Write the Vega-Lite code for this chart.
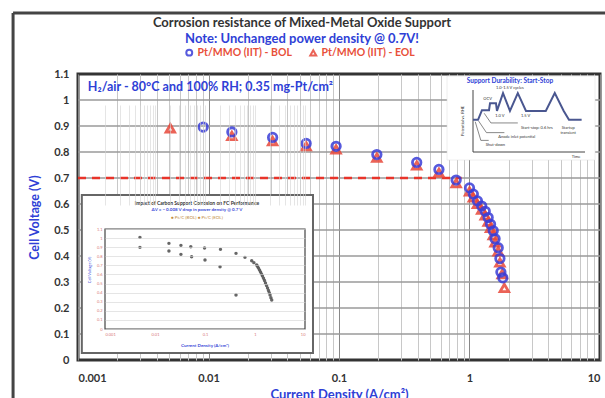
{
  "$schema": "https://vega.github.io/schema/vega-lite/v6.json",
  "width": 522,
  "height": 286,
  "autosize": "none",
  "padding": {"left": 78, "top": 74, "right": 5, "bottom": 38},
  "background": "white",
  "config": {"font": "Lato", "view": {"stroke": "#333", "strokeWidth": 3}},
  "title": {
    "text": "Corrosion resistance of Mixed-Metal Oxide Support",
    "subtitle": "Note: Unchanged power density @ 0.7V!",
    "anchor": "middle",
    "frame": "group",
    "dx": -37,
    "offset": -35,
    "font": "Lato",
    "fontSize": 13,
    "fontWeight": "bold",
    "color": "#333333",
    "subtitleFont": "Lato",
    "subtitleFontSize": 13,
    "subtitleFontWeight": "bold",
    "subtitleColor": "#2f3fd6",
    "subtitlePadding": 3
  },
  "datasets": {
    "curve": [
      {"j": 0.0051, "v": 0.891, "series": "Pt/MMO (IIT) - EOL"},
      {"j": 0.0151, "v": 0.862, "series": "Pt/MMO (IIT) - EOL"},
      {"j": 0.031, "v": 0.842, "series": "Pt/MMO (IIT) - EOL"},
      {"j": 0.056, "v": 0.822, "series": "Pt/MMO (IIT) - EOL"},
      {"j": 0.095, "v": 0.81, "series": "Pt/MMO (IIT) - EOL"},
      {"j": 0.195, "v": 0.778, "series": "Pt/MMO (IIT) - EOL"},
      {"j": 0.394, "v": 0.748, "series": "Pt/MMO (IIT) - EOL"},
      {"j": 0.583, "v": 0.72, "series": "Pt/MMO (IIT) - EOL"},
      {"j": 0.79, "v": 0.68, "series": "Pt/MMO (IIT) - EOL"},
      {"j": 1.0, "v": 0.648, "series": "Pt/MMO (IIT) - EOL"},
      {"j": 1.07, "v": 0.625, "series": "Pt/MMO (IIT) - EOL"},
      {"j": 1.15, "v": 0.6, "series": "Pt/MMO (IIT) - EOL"},
      {"j": 1.24, "v": 0.578, "series": "Pt/MMO (IIT) - EOL"},
      {"j": 1.32, "v": 0.556, "series": "Pt/MMO (IIT) - EOL"},
      {"j": 1.39, "v": 0.532, "series": "Pt/MMO (IIT) - EOL"},
      {"j": 1.45, "v": 0.508, "series": "Pt/MMO (IIT) - EOL"},
      {"j": 1.52, "v": 0.48, "series": "Pt/MMO (IIT) - EOL"},
      {"j": 1.57, "v": 0.452, "series": "Pt/MMO (IIT) - EOL"},
      {"j": 1.66, "v": 0.418, "series": "Pt/MMO (IIT) - EOL"},
      {"j": 1.71, "v": 0.375, "series": "Pt/MMO (IIT) - EOL"},
      {"j": 1.78, "v": 0.33, "series": "Pt/MMO (IIT) - EOL"},
      {"j": 1.85, "v": 0.277, "series": "Pt/MMO (IIT) - EOL"},
      {"j": 0.0091, "v": 0.896, "series": "Pt/MMO (IIT) - BOL"},
      {"j": 0.0151, "v": 0.877, "series": "Pt/MMO (IIT) - BOL"},
      {"j": 0.031, "v": 0.856, "series": "Pt/MMO (IIT) - BOL"},
      {"j": 0.056, "v": 0.833, "series": "Pt/MMO (IIT) - BOL"},
      {"j": 0.095, "v": 0.822, "series": "Pt/MMO (IIT) - BOL"},
      {"j": 0.195, "v": 0.79, "series": "Pt/MMO (IIT) - BOL"},
      {"j": 0.394, "v": 0.76, "series": "Pt/MMO (IIT) - BOL"},
      {"j": 0.583, "v": 0.733, "series": "Pt/MMO (IIT) - BOL"},
      {"j": 0.79, "v": 0.692, "series": "Pt/MMO (IIT) - BOL"},
      {"j": 1.0, "v": 0.662, "series": "Pt/MMO (IIT) - BOL"},
      {"j": 1.07, "v": 0.638, "series": "Pt/MMO (IIT) - BOL"},
      {"j": 1.15, "v": 0.612, "series": "Pt/MMO (IIT) - BOL"},
      {"j": 1.24, "v": 0.592, "series": "Pt/MMO (IIT) - BOL"},
      {"j": 1.32, "v": 0.572, "series": "Pt/MMO (IIT) - BOL"},
      {"j": 1.39, "v": 0.548, "series": "Pt/MMO (IIT) - BOL"},
      {"j": 1.45, "v": 0.522, "series": "Pt/MMO (IIT) - BOL"},
      {"j": 1.52, "v": 0.497, "series": "Pt/MMO (IIT) - BOL"},
      {"j": 1.57, "v": 0.466, "series": "Pt/MMO (IIT) - BOL"},
      {"j": 1.66, "v": 0.432, "series": "Pt/MMO (IIT) - BOL"},
      {"j": 1.71, "v": 0.39, "series": "Pt/MMO (IIT) - BOL"},
      {"j": 1.74, "v": 0.338, "series": "Pt/MMO (IIT) - BOL"},
      {"j": 1.8, "v": 0.316, "series": "Pt/MMO (IIT) - BOL"}
    ],
    "hgrid": [
      {"y": 0.1}, {"y": 0.2}, {"y": 0.3}, {"y": 0.4}, {"y": 0.5},
      {"y": 0.6}, {"y": 0.7}, {"y": 0.8}, {"y": 0.9}, {"y": 1.0}
    ],
    "outer": [
      {"x": 0.000318, "x2": 0.000318, "y": -0.3, "y2": 1.335},
      {"x": 0.000318, "x2": 30, "y": 1.335, "y2": 1.335}
    ],
    "boxes": [
      {"name": "inset", "x": 0.00107, "x2": 0.0632, "y": 0.027, "y2": 0.635},
      {"name": "schematic", "x": 0.673, "x2": 9.16, "y": 0.769, "y2": 1.092}
    ],
    "dash": [{"x": 0.001, "x2": 0.87, "y": 0.7}],
    "note": [{"x": 0.00119, "y": 1.05, "text": "H₂/air - 80°C and 100% RH; 0.35 mg-Pt/cm²"}],
    "insetFrame": [{"x": 0.001, "x2": 10, "y": 0, "y2": 1.1}],
    "insetPts": [
      {"x": 0.005, "y": 1.008}, {"x": 0.005, "y": 0.898},
      {"x": 0.019, "y": 0.942}, {"x": 0.019, "y": 0.857},
      {"x": 0.033, "y": 0.92}, {"x": 0.033, "y": 0.821},
      {"x": 0.052, "y": 0.904}, {"x": 0.054, "y": 0.795},
      {"x": 0.098, "y": 0.89}, {"x": 0.1, "y": 0.758},
      {"x": 0.204, "y": 0.876}, {"x": 0.2, "y": 0.685},
      {"x": 0.417, "y": 0.832}, {"x": 0.417, "y": 0.374},
      {"x": 0.63, "y": 0.788}, {"x": 0.86, "y": 0.751},
      {"x": 0.95, "y": 0.73}, {"x": 1.08, "y": 0.703},
      {"x": 1.12, "y": 0.69}, {"x": 1.17, "y": 0.67},
      {"x": 1.23, "y": 0.65}, {"x": 1.29, "y": 0.626},
      {"x": 1.35, "y": 0.605}, {"x": 1.41, "y": 0.582},
      {"x": 1.48, "y": 0.558}, {"x": 1.55, "y": 0.533},
      {"x": 1.62, "y": 0.505}, {"x": 1.7, "y": 0.478},
      {"x": 1.78, "y": 0.45}, {"x": 1.86, "y": 0.423},
      {"x": 1.93, "y": 0.4}, {"x": 2.0, "y": 0.374},
      {"x": 2.08, "y": 0.345}, {"x": 2.16, "y": 0.319}
    ],
    "insetText": [
      {"role": "title", "x": 0.069, "y": 1.385, "text": "Impact of Carbon Support Corrosion on FC Performance"},
      {"role": "sub", "x": 0.069, "y": 1.308, "text": "ΔV = ~ 0.008 V drop in power density @ 0.7 V"},
      {"role": "leg", "x": 0.069, "y": 1.225, "text": "● Pt/C (BOL)          ● Pt/C (EOL)"},
      {"role": "xt", "x": 0.1, "y": -0.19, "text": "Current Density (A/cm²)"}
    ],
    "insetYT": [{"x": 0.0005, "y": 0.65, "text": "Cell Voltage (V)"}],
    "schem": [
      {"t": 0, "p": 0.83}, {"t": 4.5, "p": 0.83}, {"t": 8, "p": 1.08},
      {"t": 14.3, "p": 1.08}, {"t": 15.2, "p": 1.26}, {"t": 20.5, "p": 1.26},
      {"t": 21.4, "p": 1.06}, {"t": 26.8, "p": 1.52}, {"t": 33, "p": 1.06},
      {"t": 40, "p": 1.52}, {"t": 47.3, "p": 1.06}, {"t": 65, "p": 1.06},
      {"t": 73, "p": 1.52}, {"t": 81, "p": 1.06}, {"t": 85.7, "p": 0.83},
      {"t": 97, "p": 0.83}
    ],
    "schemLead": [
      {"s": "a", "t": 2, "p": 0.78}, {"s": "a", "t": 7, "p": 0.3}, {"s": "a", "t": 14, "p": 0.3},
      {"s": "b", "t": 5, "p": 0.8}, {"s": "b", "t": 12, "p": 0.5}, {"s": "b", "t": 28, "p": 0.5},
      {"s": "c", "t": 10, "p": 1.0}, {"s": "c", "t": 16, "p": 0.75}, {"s": "c", "t": 40, "p": 0.75}
    ],
    "schemAxes": [
      {"t": 0, "t2": 0, "p": 0, "p2": 1.6},
      {"t": 0, "t2": 100, "p": 0, "p2": 0}
    ],
    "schemText": [
      {"t": 13, "p": 1.38, "text": "OCV"},
      {"t": 33, "p": 1.64, "text": "1.0-1.5 V cycles"},
      {"t": 24, "p": 0.92, "text": "1.0 V"},
      {"t": 47, "p": 0.92, "text": "1.5 V"},
      {"t": 57, "p": 0.62, "text": "Start-stop: 0.6 hrs"},
      {"t": 39, "p": 0.38, "text": "Anode inlet potential"},
      {"t": 85, "p": 0.62, "text": "Startup"},
      {"t": 85, "p": 0.5, "text": "transient"},
      {"t": 20, "p": 0.18, "text": "Shut-down"},
      {"t": 92, "p": -0.12, "text": "Time"}
    ],
    "schemTitle": [{"t": 33, "p": 1.83, "text": "Support Durability: Start-Stop"}],
    "schemYT": [{"t": -9, "p": 0.8, "text": "Potential vs. RHE"}]
  },
  "layer": [
    {
      "data": {"name": "dash"},
      "mark": {"type": "rule", "stroke": "#e8342a", "strokeWidth": 2.5, "strokeDash": [8, 6], "opacity": 0},
      "encoding": {
        "x": {
          "field": "x", "type": "quantitative",
          "scale": {"type": "log", "domain": [0.001, 10]},
          "axis": {
            "orient": "bottom",
            "values": [0.001, 0.002, 0.003, 0.004, 0.005, 0.006, 0.007, 0.008, 0.009, 0.01, 0.02, 0.03, 0.04, 0.05, 0.06, 0.07, 0.08, 0.09, 0.1, 0.2, 0.3, 0.4, 0.5, 0.6, 0.7, 0.8, 0.9, 1, 2, 3, 4, 5, 6, 7, 8, 9, 10],
            "format": "~g",
            "labelExpr": "indexof([0.001, 0.01, 0.1, 1, 10], datum.value) >= 0 ? datum.label : ''",
            "labelOverlap": false,
            "labelFont": "Lato", "labelFontWeight": "bold", "labelFontSize": 11, "labelColor": "#333333",
            "labelPadding": 12,
            "ticks": false, "domain": false,
            "grid": true,
            "gridColor": {"condition": {"test": "indexof([0.001, 0.01, 0.1, 1, 10], datum.value) >= 0", "value": "#888888"}, "value": "#c8c8c8"},
            "title": "Current Density (A/cm²)",
            "titleFont": "Lato", "titleFontWeight": "bold", "titleFontSize": 13, "titleColor": "#2f3fd6",
            "titlePadding": 5
          }
        },
        "x2": {"field": "x2"},
        "y": {
          "field": "y", "type": "quantitative",
          "scale": {"domain": [0, 1.1], "nice": false, "zero": false},
          "axis": {
            "orient": "left",
            "values": [0, 0.1, 0.2, 0.3, 0.4, 0.5, 0.6, 0.7, 0.8, 0.9, 1, 1.1],
            "format": ".1~f",
            "labelFont": "Lato", "labelFontWeight": "bold", "labelFontSize": 11, "labelColor": "#333333",
            "labelPadding": 9,
            "ticks": false, "domain": false,
            "grid": false,
            "title": "Cell Voltage (V)",
            "titleFont": "Lato", "titleFontWeight": "bold", "titleFontSize": 12.5, "titleColor": "#2f3fd6",
            "titlePadding": 12
          }
        }
      }
    },
    {
      "data": {"name": "hgrid"},
      "mark": {"type": "rule", "stroke": "#9a9a9a", "strokeWidth": 1.3},
      "encoding": {
        "x": {"datum": 0.001, "type": "quantitative", "scale": {"type": "log", "domain": [0.001, 10]}, "axis": null},
        "x2": {"datum": 10},
        "y": {"field": "y", "type": "quantitative", "scale": {"domain": [0, 1.1], "nice": false, "zero": false}, "axis": null}
      }
    },
    {
      "data": {"name": "outer"},
      "mark": {"type": "rule", "stroke": "#444444", "strokeWidth": 3},
      "encoding": {
        "x": {"field": "x", "type": "quantitative", "scale": {"type": "log", "domain": [0.001, 10]}, "axis": null},
        "x2": {"field": "x2"},
        "y": {"field": "y", "type": "quantitative", "scale": {"domain": [0, 1.1], "nice": false, "zero": false}, "axis": null},
        "y2": {"field": "y2"}
      }
    },
    {
      "data": {"name": "boxes"},
      "transform": [{"filter": "datum.name == 'inset'"}],
      "mark": {"type": "rect", "fill": "white", "stroke": "#666666", "strokeWidth": 2},
      "encoding": {
        "x": {"field": "x", "type": "quantitative", "scale": {"type": "log", "domain": [0.001, 10]}, "axis": null},
        "x2": {"field": "x2"},
        "y": {"field": "y", "type": "quantitative", "scale": {"domain": [0, 1.1], "nice": false, "zero": false}, "axis": null},
        "y2": {"field": "y2"}
      }
    },
    {
      "data": {"name": "boxes"},
      "transform": [{"filter": "datum.name == 'schematic'"}],
      "mark": {"type": "rect", "fill": "white", "stroke": "#dddddd", "strokeWidth": 0.5},
      "encoding": {
        "x": {"field": "x", "type": "quantitative", "scale": {"type": "log", "domain": [0.001, 10]}, "axis": null},
        "x2": {"field": "x2"},
        "y": {"field": "y", "type": "quantitative", "scale": {"domain": [0, 1.1], "nice": false, "zero": false}, "axis": null},
        "y2": {"field": "y2"}
      }
    },
    {
      "data": {"name": "dash"},
      "mark": {"type": "rule", "stroke": "#e8342a", "strokeWidth": 2.5, "strokeDash": [8, 6]},
      "encoding": {
        "x": {"field": "x", "type": "quantitative", "scale": {"type": "log", "domain": [0.001, 10]}, "axis": null},
        "x2": {"field": "x2"},
        "y": {"field": "y", "type": "quantitative", "scale": {"domain": [0, 1.1], "nice": false, "zero": false}, "axis": null}
      }
    },
    {
      "data": {"name": "curve"},
      "mark": {"type": "point", "filled": false, "strokeWidth": 2.8, "opacity": 0.85, "size": 72},
      "encoding": {
        "x": {"field": "j", "type": "quantitative", "scale": {"type": "log", "domain": [0.001, 10]}, "axis": null},
        "y": {"field": "v", "type": "quantitative", "scale": {"domain": [0, 1.1], "nice": false, "zero": false}, "axis": null},
        "color": {
          "field": "series", "type": "nominal",
          "scale": {"domain": ["Pt/MMO (IIT) - BOL", "Pt/MMO (IIT) - EOL"], "range": ["#3a3ed8", "#e8483a"]},
          "legend": {
            "orient": "none", "legendX": 106, "legendY": -27, "direction": "horizontal", "title": null,
            "labelFont": "Lato", "labelFontWeight": "bold", "labelFontSize": 10.5, "labelColor": "#e8503a",
            "symbolStrokeWidth": 2, "symbolSize": 35, "columnPadding": 14, "labelOffset": 3
          }
        },
        "shape": {
          "field": "series", "type": "nominal",
          "scale": {"domain": ["Pt/MMO (IIT) - BOL", "Pt/MMO (IIT) - EOL"], "range": ["circle", "triangle-up"]},
          "legend": null
        }
      }
    },
    {
      "data": {"name": "note"},
      "mark": {"type": "text", "align": "left", "baseline": "middle", "font": "Lato", "fontWeight": "bold", "fontSize": 12.5, "color": "#2f3fd6"},
      "encoding": {
        "x": {"field": "x", "type": "quantitative", "scale": {"type": "log", "domain": [0.001, 10]}, "axis": null},
        "y": {"field": "y", "type": "quantitative", "scale": {"domain": [0, 1.1], "nice": false, "zero": false}, "axis": null},
        "text": {"field": "text"}
      }
    },
    {
      "data": {"name": "insetFrame"},
      "mark": {"type": "rect", "fillOpacity": 0, "stroke": "#444444", "strokeWidth": 1.2},
      "encoding": {
        "x": {
          "field": "x", "type": "quantitative",
          "scale": {"type": "log", "domain": [0.001, 10], "range": [27, 227]},
          "axis": {
            "orient": "bottom", "offset": -31, "zindex": 1,
            "values": [0.001, 0.002, 0.003, 0.004, 0.005, 0.006, 0.007, 0.008, 0.009, 0.01, 0.02, 0.03, 0.04, 0.05, 0.06, 0.07, 0.08, 0.09, 0.1, 0.2, 0.3, 0.4, 0.5, 0.6, 0.7, 0.8, 0.9, 1, 2, 3, 4, 5, 6, 7, 8, 9, 10],
            "format": "~g",
            "labelExpr": "indexof([0.001, 0.01, 0.1, 1, 10], datum.value) >= 0 ? datum.label : ''",
            "labelOverlap": false, "labelFontSize": 4, "labelColor": "#d77777", "labelPadding": 3,
            "ticks": false, "domain": false, "grid": true, "gridColor": "#d4d4d4", "gridWidth": 0.6,
            "title": null
          }
        },
        "x2": {"field": "x2"},
        "y": {
          "field": "y", "type": "quantitative",
          "scale": {"domain": [0, 1.1], "range": [255, 155], "nice": false, "zero": false},
          "axis": {
            "orient": "left", "offset": -27, "zindex": 1,
            "values": [0, 0.1, 0.2, 0.3, 0.4, 0.5, 0.6, 0.7, 0.8, 0.9, 1, 1.1],
            "format": ".1~f",
            "labelFontSize": 4, "labelColor": "#d77777", "labelPadding": 3,
            "ticks": false, "domain": false, "grid": true, "gridColor": "#d4d4d4", "gridWidth": 0.6,
            "title": null
          }
        },
        "y2": {"field": "y2"}
      }
    },
    {
      "data": {"name": "insetPts"},
      "mark": {"type": "circle", "size": 12, "color": "#555555", "opacity": 0.9},
      "encoding": {
        "x": {"field": "x", "type": "quantitative", "scale": {"type": "log", "domain": [0.001, 10], "range": [27, 227]}, "axis": null},
        "y": {"field": "y", "type": "quantitative", "scale": {"domain": [0, 1.1], "range": [255, 155], "nice": false, "zero": false}, "axis": null}
      }
    },
    {
      "data": {"name": "insetText"},
      "transform": [{"filter": "datum.role == 'title'"}],
      "mark": {"type": "text", "font": "Lato", "fontWeight": "bold", "fontSize": 5, "color": "#333333", "baseline": "middle"},
      "encoding": {
        "x": {"field": "x", "type": "quantitative", "scale": {"type": "log", "domain": [0.001, 10], "range": [27, 227]}, "axis": null},
        "y": {"field": "y", "type": "quantitative", "scale": {"domain": [0, 1.1], "range": [255, 155], "nice": false, "zero": false}, "axis": null},
        "text": {"field": "text"}
      }
    },
    {
      "data": {"name": "insetText"},
      "transform": [{"filter": "datum.role == 'sub' || datum.role == 'xt'"}],
      "mark": {"type": "text", "font": "Lato", "fontWeight": "bold", "fontSize": 4.5, "color": "#3a4ad8", "baseline": "middle"},
      "encoding": {
        "x": {"field": "x", "type": "quantitative", "scale": {"type": "log", "domain": [0.001, 10], "range": [27, 227]}, "axis": null},
        "y": {"field": "y", "type": "quantitative", "scale": {"domain": [0, 1.1], "range": [255, 155], "nice": false, "zero": false}, "axis": null},
        "text": {"field": "text"}
      }
    },
    {
      "data": {"name": "insetText"},
      "transform": [{"filter": "datum.role == 'leg'"}],
      "mark": {"type": "text", "font": "Lato", "fontSize": 4.5, "color": "#c08a40", "baseline": "middle"},
      "encoding": {
        "x": {"field": "x", "type": "quantitative", "scale": {"type": "log", "domain": [0.001, 10], "range": [27, 227]}, "axis": null},
        "y": {"field": "y", "type": "quantitative", "scale": {"domain": [0, 1.1], "range": [255, 155], "nice": false, "zero": false}, "axis": null},
        "text": {"field": "text"}
      }
    },
    {
      "data": {"name": "insetYT"},
      "mark": {"type": "text", "font": "Lato", "fontSize": 4, "color": "#3a4ad8", "angle": 270, "baseline": "middle"},
      "encoding": {
        "x": {"field": "x", "type": "quantitative", "scale": {"type": "log", "domain": [0.001, 10], "range": [27, 227]}, "axis": null},
        "y": {"field": "y", "type": "quantitative", "scale": {"domain": [0, 1.1], "range": [255, 155], "nice": false, "zero": false}, "axis": null},
        "text": {"field": "text"}
      }
    },
    {
      "data": {"name": "schemAxes"},
      "mark": {"type": "rule", "stroke": "#444444", "strokeWidth": 1},
      "encoding": {
        "x": {"field": "t", "type": "quantitative", "scale": {"domain": [0, 100], "range": [395, 507], "nice": false, "zero": false}, "axis": null},
        "x2": {"field": "t2"},
        "y": {"field": "p", "type": "quantitative", "scale": {"domain": [0, 1.6], "range": [78, 16], "nice": false, "zero": false}, "axis": null},
        "y2": {"field": "p2"}
      }
    },
    {
      "data": {"name": "schemLead"},
      "mark": {"type": "line", "stroke": "#555555", "strokeWidth": 0.7},
      "encoding": {
        "x": {"field": "t", "type": "quantitative", "scale": {"domain": [0, 100], "range": [395, 507], "nice": false, "zero": false}, "axis": null},
        "y": {"field": "p", "type": "quantitative", "scale": {"domain": [0, 1.6], "range": [78, 16], "nice": false, "zero": false}, "axis": null},
        "detail": {"field": "s"}
      }
    },
    {
      "data": {"name": "schem"},
      "mark": {"type": "line", "stroke": "#4a5790", "strokeWidth": 2},
      "encoding": {
        "x": {"field": "t", "type": "quantitative", "scale": {"domain": [0, 100], "range": [395, 507], "nice": false, "zero": false}, "axis": null},
        "y": {"field": "p", "type": "quantitative", "scale": {"domain": [0, 1.6], "range": [78, 16], "nice": false, "zero": false}, "axis": null}
      }
    },
    {
      "data": {"name": "schemText"},
      "mark": {"type": "text", "font": "Lato", "fontSize": 4, "color": "#333333", "baseline": "middle"},
      "encoding": {
        "x": {"field": "t", "type": "quantitative", "scale": {"domain": [0, 100], "range": [395, 507], "nice": false, "zero": false}, "axis": null},
        "y": {"field": "p", "type": "quantitative", "scale": {"domain": [0, 1.6], "range": [78, 16], "nice": false, "zero": false}, "axis": null},
        "text": {"field": "text"}
      }
    },
    {
      "data": {"name": "schemTitle"},
      "mark": {"type": "text", "font": "Lato", "fontWeight": "bold", "fontSize": 6.5, "color": "#2f3fd6", "baseline": "middle"},
      "encoding": {
        "x": {"field": "t", "type": "quantitative", "scale": {"domain": [0, 100], "range": [395, 507], "nice": false, "zero": false}, "axis": null},
        "y": {"field": "p", "type": "quantitative", "scale": {"domain": [0, 1.6], "range": [78, 16], "nice": false, "zero": false}, "axis": null},
        "text": {"field": "text"}
      }
    },
    {
      "data": {"name": "schemYT"},
      "mark": {"type": "text", "font": "Lato", "fontSize": 4, "color": "#333333", "angle": 270, "baseline": "middle"},
      "encoding": {
        "x": {"field": "t", "type": "quantitative", "scale": {"domain": [0, 100], "range": [395, 507], "nice": false, "zero": false}, "axis": null},
        "y": {"field": "p", "type": "quantitative", "scale": {"domain": [0, 1.6], "range": [78, 16], "nice": false, "zero": false}, "axis": null},
        "text": {"field": "text"}
      }
    }
  ],
  "resolve": {"scale": {"x": "independent", "y": "independent"}}
}
